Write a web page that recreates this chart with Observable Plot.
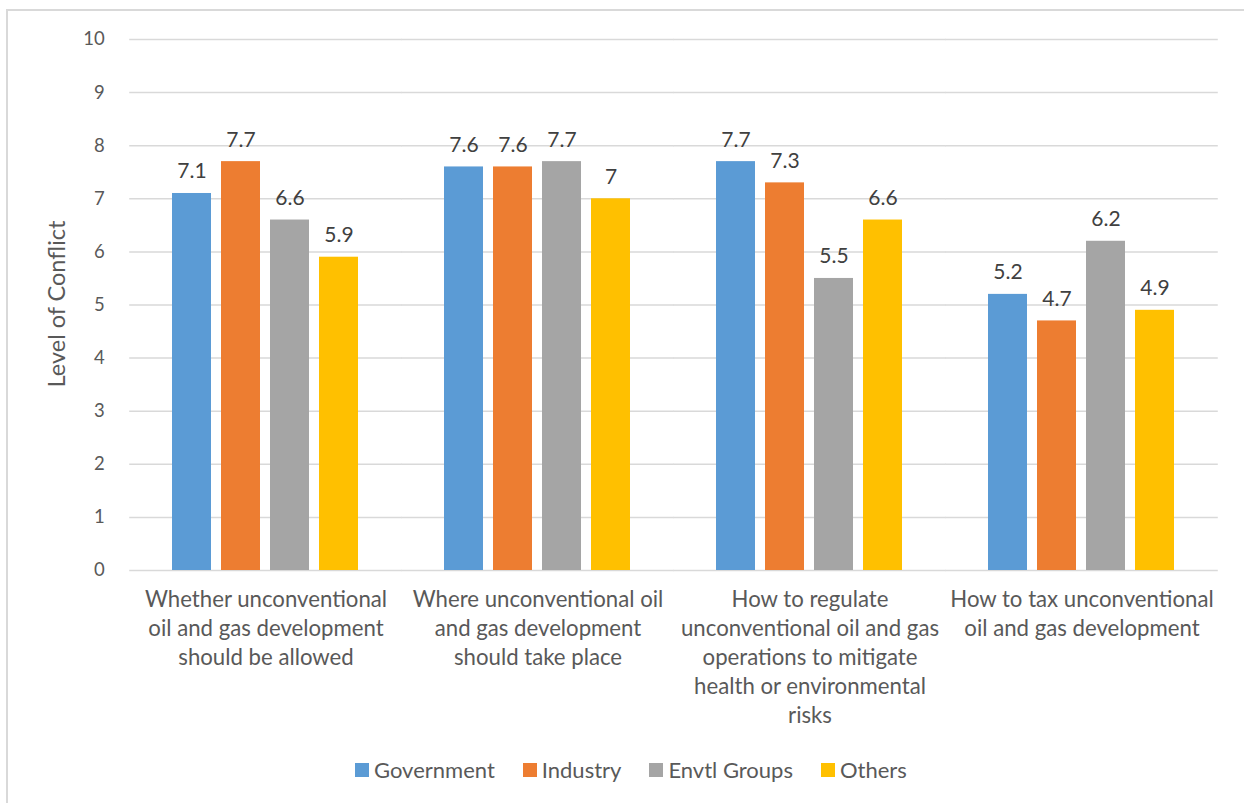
<!DOCTYPE html>
<html>
<head>
<meta charset="utf-8">
<script src="https://cdn.jsdelivr.net/npm/d3@7"></script>
<script src="https://cdn.jsdelivr.net/npm/@observablehq/plot@0.6"></script>
<style>
  html, body { margin: 0; padding: 0; background: #fff; }
  #wrap { position: relative; width: 1244px; height: 803px; overflow: hidden; font-family: Lato, sans-serif; }
  #frame { position: absolute; left: 6px; top: 9px; width: 1240px; height: 800px; border: 2px solid #d9d9d9; box-sizing: border-box; }
  #chart { position: absolute; left: 0; top: 0; }
  #ylabel { position: absolute; left: 56px; top: 304px; transform: translate(-50%, -50%) rotate(-90deg); white-space: nowrap; font-size: 23.5px; color: #595959; }
  #legend { position: absolute; left: 355px; top: 770px; transform: translateY(-50%); display: flex; align-items: center; font-size: 22px; line-height: 1; color: #595959; }
  .item { display: flex; align-items: center; margin-right: 28px; }
  .sw { width: 14px; height: 14px; margin-right: 5px; }
</style>
</head>
<body>
<div id="wrap">
  <div id="frame"></div>
  <div id="chart"></div>
  <div id="ylabel">Level of Conflict</div>
  <div id="legend"></div>
</div>
<script>
const categories = [
  "Whether unconventional oil and gas development should be allowed",
  "Where unconventional oil and gas development should take place",
  "How to regulate unconventional oil and gas operations to mitigate health or environmental risks",
  "How to tax unconventional oil and gas development"
];
const categoryLabels = [
  "Whether unconventional\noil and gas development\nshould be allowed",
  "Where unconventional oil\nand gas development\nshould take place",
  "How to regulate\nunconventional oil and gas\noperations to mitigate\nhealth or environmental\nrisks",
  "How to tax unconventional\noil and gas development"
];
const seriesNames = ["Government", "Industry", "Envtl Groups", "Others"];
const seriesColors = ["#5b9bd5", "#ed7d31", "#a5a5a5", "#ffc000"];
const government = [7.1, 7.6, 7.7, 5.2];
const industry = [7.7, 7.6, 7.3, 4.7];
const envtlGroups = [6.6, 7.7, 5.5, 6.2];
const others = [5.9, 7.0, 6.6, 4.9];
const yTicks = [0, 1, 2, 3, 4, 5, 6, 7, 8, 9, 10];

const seriesValues = [government, industry, envtlGroups, others];
const data = [];
categories.forEach((c, ci) => {
  seriesNames.forEach((s, si) => {
    data.push({category: c, series: s, value: seriesValues[si][ci]});
  });
});
const labelOf = new Map(categories.map((c, i) => [c, categoryLabels[i]]));

const plotWidth = 1244, mLeft = 128, mRight = 26;
const step = (plotWidth - mLeft - mRight) / categories.length;
const pInner = 0.314;
const gapHalf = step * pInner / 2;
const catFont = 22.2;

const plot = Plot.plot({
  width: plotWidth,
  height: 740,
  marginTop: 39,
  marginBottom: 170,
  marginLeft: mLeft,
  marginRight: mRight,
  style: {fontFamily: "Lato, sans-serif", color: "#595959", background: "transparent"},
  fx: {domain: categories, paddingInner: pInner, paddingOuter: pInner / 2, label: null},
  x: {domain: seriesNames, paddingInner: 0.2, paddingOuter: 0, axis: null},
  y: {domain: [0, 10], label: null},
  color: {domain: seriesNames, range: seriesColors},
  marks: [
    Plot.ruleY(yTicks, {y: d => d, stroke: "#d9d9d9", strokeWidth: 1.5, insetLeft: -gapHalf, insetRight: -gapHalf}),
    Plot.axisY(yTicks, {tickSize: 0, tickPadding: 25 + gapHalf, fontSize: 18.5, fill: "#595959", tickFormat: d => String(d), label: null}),
    Plot.axisFx({anchor: "bottom", tickSize: 0, tickPadding: 16, fontSize: catFont, lineHeight: 29 / catFont, fill: "#595959", tickFormat: d => labelOf.get(d), label: null}),
    Plot.barY(data, {fx: "category", x: "series", y: "value", fill: "series"}),
    Plot.text(data, {fx: "category", x: "series", y: "value", text: d => String(d.value), lineAnchor: "bottom", dy: -15, fontSize: 21, fill: "#404040"})
  ]
});
document.getElementById("chart").appendChild(plot);

const legend = document.getElementById("legend");
seriesNames.forEach((s, i) => {
  const item = document.createElement("div");
  item.className = "item";
  const sw = document.createElement("div");
  sw.className = "sw";
  sw.style.background = seriesColors[i];
  const lab = document.createElement("span");
  lab.textContent = s;
  item.appendChild(sw);
  item.appendChild(lab);
  legend.appendChild(item);
});
</script>
</body>
</html>
